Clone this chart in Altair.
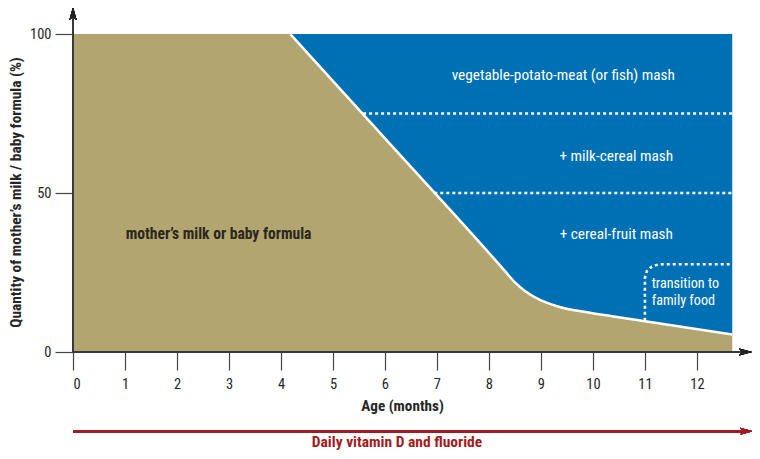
import altair as alt
import pandas as pd

# ---- data ----
months = [0, 4.18, 6.0, 8.08, 8.3, 8.5, 8.7, 8.99, 9.38, 9.88, 10.4, 10.91, 12.68]
milk_share = [100, 100, 67.2, 29.7, 25.6, 21.9, 19.1, 16.3, 14.1, 12.5, 11.2, 9.9, 5.5]

mash_levels = [75, 50]
mash_start = [5.58, 6.95]
mash_end = [12.68, 12.68]

trans_month = [11.0, 11.0, 11.036, 11.135, 11.27, 12.68]
trans_share = [9.8, 23.2, 25.4, 26.9, 27.6, 27.6]

blue_labels = ["vegetable-potato-meat (or fish) mash", "+ milk-cereal mash", "+ cereal-fruit mash"]
blue_label_x = [9.43, 10.45, 10.45]
blue_label_y = [87.2, 61.7, 37.2]

trans_labels = ["transition to", "family food"]
trans_label_x = [11.13, 11.13]
trans_label_y = [21.4, 16.0]

milk_label = ["mother\u2019s milk or baby formula"]
milk_label_x = [2.8]
milk_label_y = [37.2]

x_ticks = list(range(13))
y_ticks = [0, 50, 100]

FONT = "Liberation Sans Narrow, Roboto Condensed, DejaVu Sans Condensed, sans-serif"
TAN = "#b2a570"
BLUE = "#0070b4"
RED = "#a11c22"
DARK = "#262626"

curve = pd.DataFrame({"month": months, "share": milk_share})
mash = pd.DataFrame({"level": mash_levels, "start": mash_start, "end": mash_end})
trans = pd.DataFrame({"month": trans_month, "share": trans_share, "order": list(range(len(trans_month)))})
blue_txt = pd.DataFrame({"label": blue_labels, "month": blue_label_x, "share": blue_label_y})
trans_txt = pd.DataFrame({"label": trans_labels, "month": trans_label_x, "share": trans_label_y})
milk_txt = pd.DataFrame({"label": milk_label, "month": milk_label_x, "share": milk_label_y})

xs = alt.Scale(domain=[0, 13.06], nice=False, zero=False)
ys = alt.Scale(domain=[0, 108.2], nice=False)

xaxis = alt.Axis(values=x_ticks, tickSize=18, domain=False, grid=False,
                 tickColor="#444", tickWidth=1.2, labelFontSize=14.5,
                 labelPadding=7, labelColor=DARK, labelFont=FONT,
                 title="Age (months)", titleFont=FONT, titleFontSize=15.2,
                 titleFontWeight="bold", titleColor=DARK, titleX=329, titleY=58,
                 titleBaseline="alphabetic", titleAlign="center")
yaxis = alt.Axis(values=y_ticks, tickSize=18, domain=False, grid=False,
                 tickColor="#444", tickWidth=1.2, labelFontSize=14.5,
                 labelPadding=4, labelColor=DARK, labelFont=FONT,
                 title="Quantity of mother\u2019s milk / baby formula (%)",
                 titleFont=FONT, titleFontSize=15.4, titleFontWeight="bold",
                 titleColor=DARK, titleAngle=270, titleX=-52.5, titleY=184,
                 titleBaseline="alphabetic", titleAlign="center")


def X(field):
    return alt.X(field, scale=xs, axis=xaxis)


def Y(field):
    return alt.Y(field, scale=ys, axis=yaxis)


tan_area = alt.Chart(curve).mark_area(color=TAN, interpolate="monotone", opacity=1).encode(
    x=X("month:Q"), y=Y("share:Q"))

blue_area = alt.Chart(curve).transform_filter(alt.datum.month >= 4.18).transform_calculate(
    top="100").mark_area(color=BLUE, interpolate="monotone", opacity=1).encode(
    x=X("month:Q"), y=Y("top:Q"), y2="share:Q")

boundary = alt.Chart(curve).transform_filter(alt.datum.month >= 4.18).mark_line(
    color="white", strokeWidth=2.5, interpolate="monotone").encode(
    x=X("month:Q"), y=Y("share:Q"))

dotted = alt.Chart(mash).mark_rule(color="white", strokeWidth=2.6, strokeDash=[3, 3]).encode(
    x=X("start:Q"), x2="end:Q", y=Y("level:Q"))

trans_line = alt.Chart(trans).mark_line(color="white", strokeWidth=2.6, strokeDash=[3, 3]).encode(
    x=X("month:Q"), y=Y("share:Q"), order="order:Q")

blue_text = alt.Chart(blue_txt).mark_text(color="white", font=FONT, fontSize=15.3,
                                          align="center", baseline="middle").encode(
    x=X("month:Q"), y=Y("share:Q"), text="label:N")

trans_text = alt.Chart(trans_txt).mark_text(color="white", font=FONT, fontSize=14.2,
                                            align="left", baseline="middle").encode(
    x=X("month:Q"), y=Y("share:Q"), text="label:N")

milk_text = alt.Chart(milk_txt).mark_text(color="#2a271c", font=FONT, fontSize=15.6,
                                          fontWeight="bold", align="center",
                                          baseline="middle").encode(
    x=X("month:Q"), y=Y("share:Q"), text="label:N")

ARROW = "M1,0L-1,-0.55L-0.5,0L-1,0.55Z"

x_axis_line = alt.Chart(curve).mark_rule(color="#3a3a3a", strokeWidth=1.5).encode(
    x=alt.value(0), x2=alt.value(670), y=alt.value(344))
y_axis_line = alt.Chart(curve).mark_rule(color="#3a3a3a", strokeWidth=1.5).encode(
    x=alt.value(0), y=alt.value(344), y2=alt.value(8))
x_arrow = alt.Chart(curve).mark_point(shape=ARROW, filled=True, size=169, color="#222",
                                      opacity=1, strokeWidth=0).encode(
    x=alt.value(672.5), y=alt.value(344))
y_arrow = alt.Chart(curve).mark_point(shape=ARROW, filled=True, size=169, color="#222",
                                      opacity=1, strokeWidth=0, angle=270).encode(
    x=alt.value(0), y=alt.value(5.5))

red_line = alt.Chart(curve).mark_rule(color=RED, strokeWidth=2.7).encode(
    x=alt.value(0), x2=alt.value(670), y=alt.value(423.3))
red_arrow = alt.Chart(curve).mark_point(shape=ARROW, filled=True, size=169, color=RED,
                                        opacity=1, strokeWidth=0).encode(
    x=alt.value(673.5), y=alt.value(423.3))
red_text = alt.Chart(pd.DataFrame({"t": ["Daily vitamin D and fluoride"]})).mark_text(
    color=RED, font=FONT, fontSize=15.5, fontWeight="bold", align="center",
    baseline="alphabetic").encode(x=alt.value(324), y=alt.value(439), text="t:N")

chart = alt.layer(
    tan_area, blue_area, boundary, dotted, trans_line, blue_text, trans_text, milk_text,
    x_axis_line, y_axis_line, x_arrow, y_arrow, red_line, red_arrow, red_text,
).properties(
    width=679, height=344,
    autosize=alt.AutoSizeParams(type="none"),
    padding={"left": 65, "top": 0, "right": 0, "bottom": 99},
).configure_view(stroke=None)

chart.save("out.html", embed_options={"renderer": "svg", "actions": False})
